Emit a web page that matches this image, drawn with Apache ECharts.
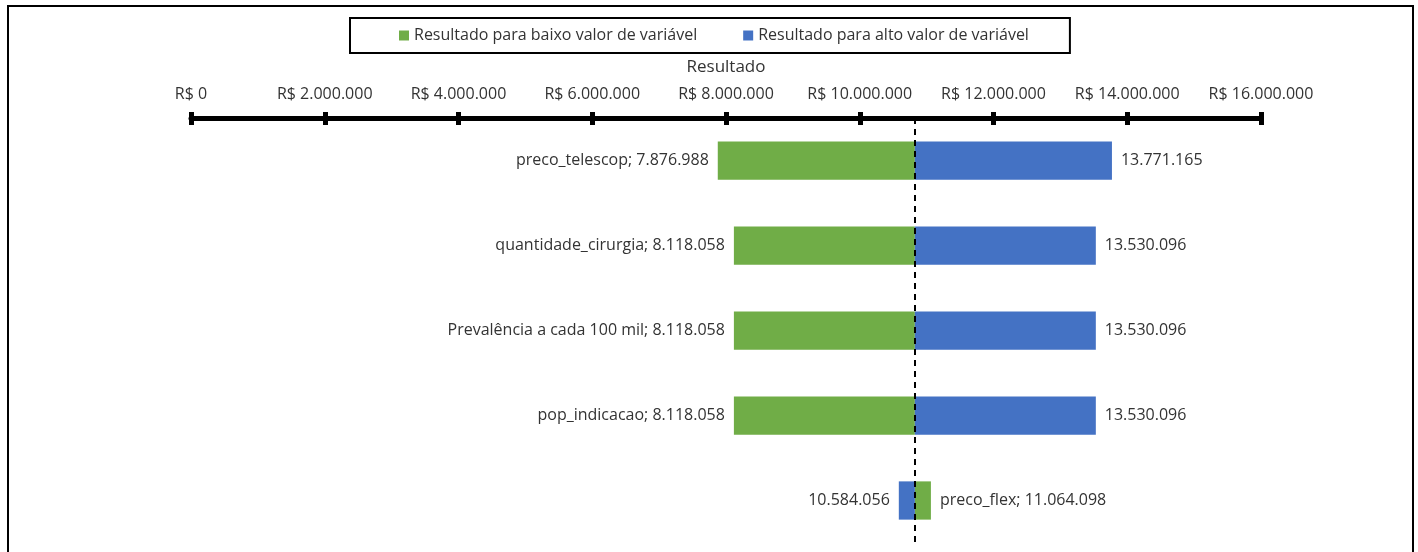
<!DOCTYPE html>
<html>
<head>
<meta charset="utf-8">
<script src="https://cdn.jsdelivr.net/npm/echarts@6/dist/echarts.min.js"></script>
<style>
  html, body { margin: 0; padding: 0; background: #fff; }
  #tornado { width: 1418px; height: 552px; }
</style>
</head>
<body>
<div id="tornado"></div>
<script>
var tornadoChart = echarts.init(document.getElementById('tornado'));

// valores do grafico de tornado
var variaveis = ['preco_telescop', 'quantidade_cirurgia', 'Prevalência a cada 100 mil', 'pop_indicacao', 'preco_flex'];
var resultadoBaixo = [7876988, 8118058, 8118058, 8118058, 11064098];
var resultadoAlto = [13771165, 13530096, 13530096, 13530096, 10584056];
var valorBase = 10824077;
var eixoMin = 0, eixoMax = 16000000, eixoPasso = 2000000;

var fonte = 'Open Sans';
var tam = 16;

function fmt(v) {
    return String(Math.round(v)).replace(/\B(?=(\d{3})+(?!\d))/g, '.');
}

function serieDados(valores) {
    return valores.map(function (v, i) { return [v, i]; });
}

function desenhaBarra(comNome) {
    return function (params, api) {
        var v = api.value(0);
        var idx = api.value(1);
        var p0 = api.coord([valorBase, idx]);
        var p1 = api.coord([v, idx]);
        var h = api.size([0, 1])[1] * 0.45;
        var texto = comNome ? variaveis[idx] + '; ' + fmt(v) : fmt(v);
        return {
            type: 'rect',
            shape: {
                x: Math.min(p0[0], p1[0]),
                y: p0[1] - h / 2,
                width: Math.abs(p1[0] - p0[0]),
                height: h
            },
            style: api.style(),
            textContent: {
                style: {
                    text: texto,
                    fill: '#333',
                    fontSize: tam,
                    fontFamily: fonte
                }
            },
            textConfig: {
                position: v < valorBase ? 'left' : 'right',
                distance: 9
            }
        };
    };
}

option = {
    animation: false,
    color: ['#70ad47', '#4472c4'],
    textStyle: { fontFamily: fonte },
    graphic: [{
        type: 'rect',
        shape: { x: 8, y: 6, width: 1405, height: 560 },
        style: { fill: 'none', stroke: '#000', lineWidth: 2 },
        silent: true
    }],
    legend: {
        left: 350,
        top: 18,
        padding: [8, 41, 8, 49],
        itemGap: 46,
        itemWidth: 10,
        itemHeight: 10,
        icon: 'rect',
        borderColor: '#000',
        borderWidth: 2,
        selectedMode: false,
        textStyle: { color: '#333', fontSize: tam, fontFamily: fonte, lineHeight: 19 }
    },
    grid: {
        left: 191,
        right: 157,
        top: 118,
        height: 425
    },
    xAxis: [{
        type: 'value',
        position: 'top',
        min: eixoMin,
        max: eixoMax,
        interval: eixoPasso,
        name: 'Resultado',
        nameLocation: 'middle',
        nameGap: 42,
        nameTextStyle: { color: '#333', fontSize: 17, fontFamily: fonte },
        axisLine: { show: true, lineStyle: { color: '#000', width: 5 } },
        axisTick: { show: true, length: 6, lineStyle: { color: '#000', width: 5 } },
        axisLabel: {
            margin: 16,
            color: '#333',
            fontSize: tam,
            fontFamily: fonte,
            formatter: function (v) { return 'R$ ' + fmt(v); }
        },
        splitLine: { show: false }
    }, {
        type: 'value',
        position: 'top',
        min: eixoMin,
        max: eixoMax,
        interval: eixoPasso,
        axisLine: { show: false },
        axisTick: { show: true, inside: true, length: 7, lineStyle: { color: '#000', width: 5 } },
        axisLabel: { show: false },
        splitLine: { show: false }
    }],
    yAxis: {
        type: 'category',
        data: variaveis,
        inverse: true,
        show: false
    },
    series: [{
        name: 'Resultado para baixo valor de variável',
        type: 'custom',
        renderItem: desenhaBarra(true),
        encode: { x: 0, y: 1 },
        data: serieDados(resultadoBaixo)
    }, {
        name: 'Resultado para alto valor de variável',
        type: 'custom',
        renderItem: desenhaBarra(false),
        encode: { x: 0, y: 1 },
        data: serieDados(resultadoAlto),
        markLine: {
            silent: true,
            symbol: 'none',
            label: { show: false },
            lineStyle: { color: '#000', width: 2, type: [6, 5] },
            data: [{ xAxis: valorBase }]
        }
    }]
};
tornadoChart.setOption(option);
</script>
</body>
</html>
